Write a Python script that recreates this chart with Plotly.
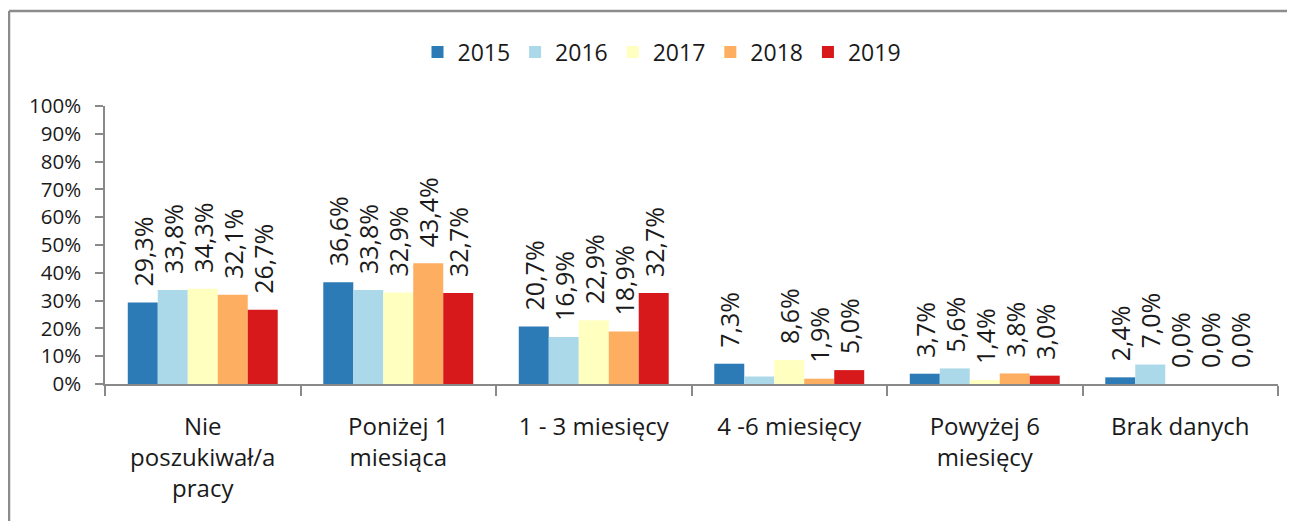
import plotly.graph_objects as go

categories = ["Nie<br>poszukiwał/a<br>pracy", "Poniżej 1<br>miesiąca", "1 - 3 miesięcy",
              "4 -6 miesięcy", "Powyżej 6<br>miesięcy", "Brak danych"]
years = ["2015", "2016", "2017", "2018", "2019"]
v2015 = [29.3, 36.6, 20.7, 7.3, 3.7, 2.4]
v2016 = [33.8, 33.8, 16.9, 2.7, 5.6, 7.0]
v2017 = [34.3, 32.9, 22.9, 8.6, 1.4, 0.0]
v2018 = [32.1, 43.4, 18.9, 1.9, 3.8, 0.0]
v2019 = [26.7, 32.7, 32.7, 5.0, 3.0, 0.0]
# labels shown on the chart (the 2016 "4 -6 miesięcy" label is not shown)
show2015 = [True] * 6
show2016 = [True, True, True, False, True, True]
show2017 = [True] * 6
show2018 = [True] * 6
show2019 = [True] * 6
colors = ["#2c7bb6", "#abd9e9", "#ffffbf", "#fdae61", "#d7191c"]

series = [v2015, v2016, v2017, v2018, v2019]
shows = [show2015, show2016, show2017, show2018, show2019]

FONT = "Open Sans"
TXT = "#1a1a1a"
PAD = "\u00a0\u00a0"
fig = go.Figure()
for name, vals, show, col in zip(years, series, shows, colors):
    txt = [(PAD + f"{v:.1f}".replace(".", ",") + "%") if s else "" for v, s in zip(vals, show)]
    fig.add_trace(go.Bar(
        name=name, x=categories, y=vals, marker_color=col, marker_line_width=0,
        text=txt, textposition="outside", textangle=-90, constraintext="none",
        textfont=dict(family=FONT, size=25, color=TXT), cliponaxis=False,
    ))

OFF = 8  # page body margin
W, H = 1295, 521
L, R, T, B = 105 - OFF, W - (1278 - OFF), 106 - OFF, H - (384 - OFF)
pw, ph = W - L - R, H - T - B

def px(x):
    return (x - OFF - L) / pw

def py(y):
    return (H - B - (y - OFF)) / ph

fig.update_layout(
    width=W, height=H, barmode="group", bargap=0.233, bargroupgap=0,
    margin=dict(l=L, r=R, t=T, b=B),
    paper_bgcolor="white", plot_bgcolor="white",
    font=dict(family=FONT, size=21, color=TXT),
    legend=dict(orientation="h", x=px(662), xanchor="center", y=py(52), yanchor="middle",
                font=dict(family=FONT, size=23, color=TXT), traceorder="normal",
                itemwidth=30),
    xaxis=dict(showline=True, linecolor="#898989", linewidth=1.5, ticks="outside",
               tickson="boundaries", ticklen=10, tickcolor="#898989", tickwidth=1.5,
               ticklabelstandoff=20,
               tickfont=dict(family=FONT, size=24, color=TXT), showgrid=False),
    yaxis=dict(range=[0, 100], dtick=10, ticksuffix="%", showline=True, linecolor="#898989",
               linewidth=1.5, ticks="outside", ticklen=8, tickcolor="#898989", tickwidth=1.5,
               showgrid=False, zeroline=False, ticklabelstandoff=10,
               tickfont=dict(family=FONT, size=20.5, color=TXT)),
    shapes=[
        dict(type="line", xref="paper", yref="paper", x0=px(9), x1=px(W + 20), y0=py(11), y1=py(11),
             line=dict(color="#8c8c8c", width=2.5)),
        dict(type="line", xref="paper", yref="paper", x0=px(9), x1=px(9), y0=py(11), y1=py(H + 20),
             line=dict(color="#8c8c8c", width=2.5)),
    ],
    separators=", ",
)
fig.write_html("out.html")
